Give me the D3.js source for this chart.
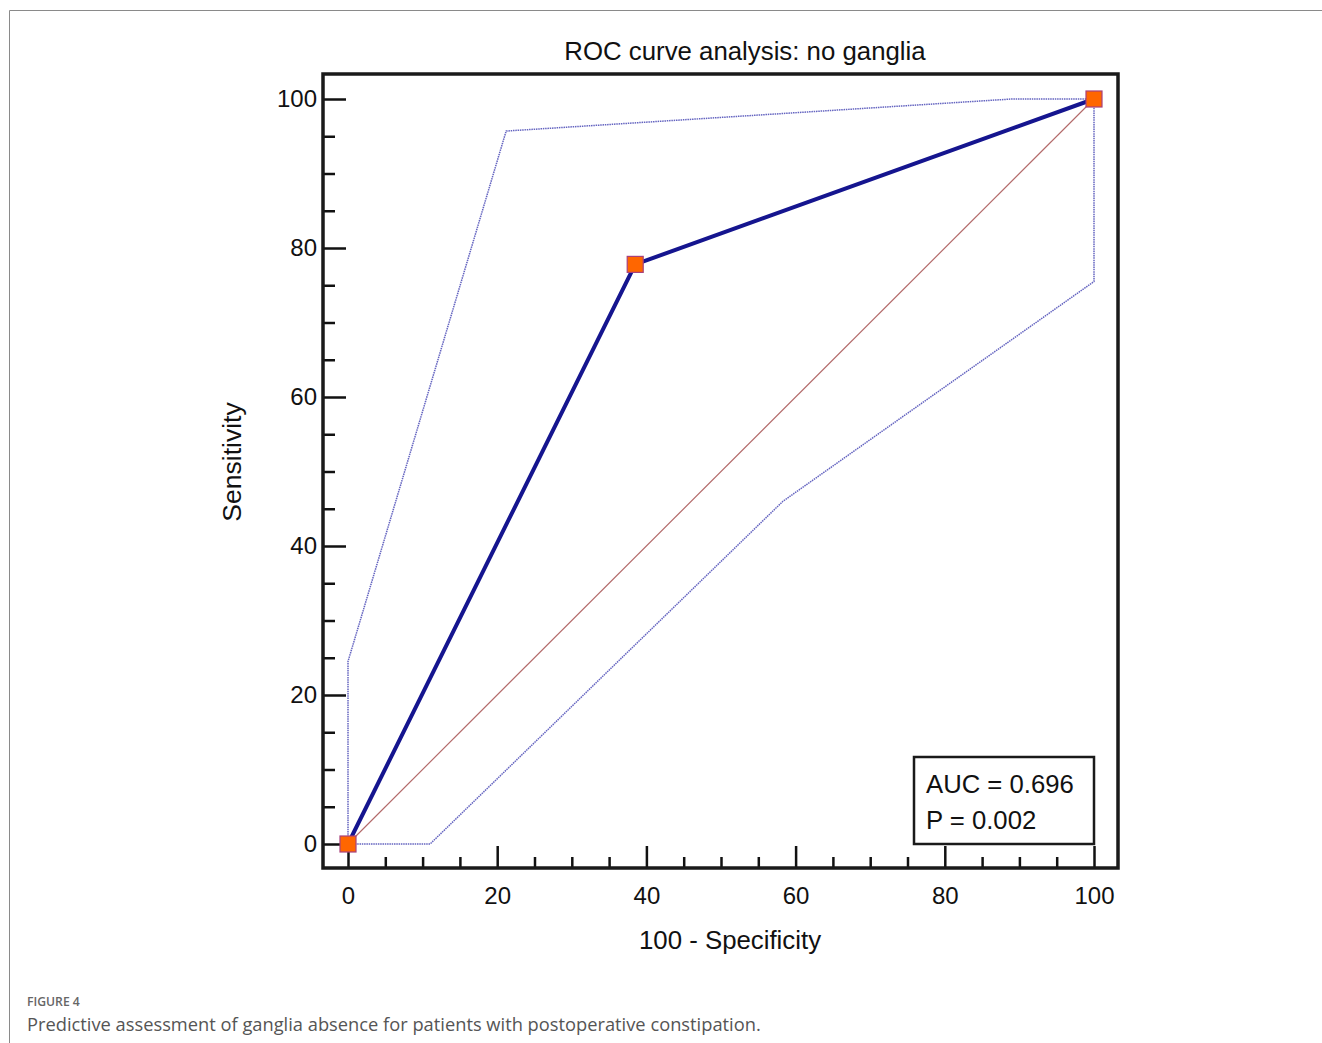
<!DOCTYPE html>
<html>
<head>
<meta charset="utf-8">
<script src="https://cdn.jsdelivr.net/npm/d3@7"></script>
<style>
	body { margin: 0; background: #fff; }
	svg { display: block; }
</style>
</head>
<body>
<script>
// * DATA
const rocX = [0, 38.5, 100];
const rocY = [0, 77.8, 100];
const upperX = [0, 0, 21.2, 89, 100];
const upperY = [0, 24.5, 95.7, 100, 100];
const lowerX = [0, 11, 58.3, 100, 100];
const lowerY = [0, 0, 46, 75.5, 100];
const refX = [0, 100];
const refY = [0, 100];
const majorTicks = [0, 20, 40, 60, 80, 100];
const minorTicks = [5, 10, 15, 25, 30, 35, 45, 50, 55, 65, 70, 75, 85, 90, 95];
const statLines = ["AUC = 0.696", "P = 0.002"];

const w = 1322;
const h = 1043;
const frame = { left: 323, top: 74, right: 1118, bottom: 868 };

const svg = d3.select("body").append("svg").attr("width", w).attr("height", h);

// * PAGE BORDER
svg.append("path")
	.attr("d", "M9.5,1043 V10.5 H1322")
	.attr("fill", "none")
	.attr("stroke", "#8a8a8a")
	.attr("stroke-width", 1);

// * SCALES
const xScale = d3.scaleLinear().domain([0, 100]).range([348, 1094]);
const yScale = d3.scaleLinear().domain([0, 100]).range([844, 99]);

const font = "'Liberation Sans', Arial, sans-serif";

// * AXES
const yMajor = d3.axisLeft(yScale).tickValues(majorTicks).tickSize(-23).tickPadding(6);
const yMinor = d3.axisLeft(yScale).tickValues(minorTicks).tickSize(-12).tickFormat("");
const xMajor = d3.axisBottom(xScale).tickValues(majorTicks).tickSize(-22).tickPadding(19);
const xMinor = d3.axisBottom(xScale).tickValues(minorTicks).tickSize(-11).tickFormat("");

function styleAxis(g) {
	g.select(".domain").remove();
	g.selectAll("line").attr("stroke", "#111").attr("stroke-width", 2.5);
	g.selectAll("text").attr("font-family", font).attr("font-size", 24).attr("fill", "#111");
}

svg.append("g").attr("transform", "translate(" + frame.left + ",0)").call(yMajor).call(styleAxis);
svg.append("g").attr("transform", "translate(" + frame.left + ",0)").call(yMinor).call(styleAxis);
svg.append("g").attr("transform", "translate(0," + frame.bottom + ")").call(xMajor).call(styleAxis);
svg.append("g").attr("transform", "translate(0," + frame.bottom + ")").call(xMinor).call(styleAxis);

// * LINES
const line = d3.line().x((d) => xScale(d[0])).y((d) => yScale(d[1]));
const zip = (a, b) => a.map((v, i) => [v, b[i]]);

svg.append("path")
	.attr("d", line(zip(refX, refY)))
	.attr("fill", "none")
	.attr("stroke", "#b36a6a")
	.attr("stroke-width", 1.2);

[zip(upperX, upperY), zip(lowerX, lowerY)].forEach((pts) => {
	svg.append("path")
		.attr("d", line(pts))
		.attr("fill", "none")
		.attr("stroke", "#6464c0")
		.attr("stroke-width", 1.5)
		.attr("stroke-dasharray", "1.5,0.8");
});

svg.append("path")
	.attr("d", line(zip(rocX, rocY)))
	.attr("fill", "none")
	.attr("stroke", "#15158f")
	.attr("stroke-width", 4);

// * MARKERS
const size = 16;
svg.selectAll("rect.pt")
	.data(zip(rocX, rocY))
	.enter()
	.append("rect")
	.attr("class", "pt")
	.attr("x", (d) => xScale(d[0]) - size / 2)
	.attr("y", (d) => yScale(d[1]) - size / 2)
	.attr("width", size)
	.attr("height", size)
	.attr("fill", "#ff6600")
	.attr("stroke", "#a8407a")
	.attr("stroke-width", 1.2);

// * FRAME
svg.append("rect")
	.attr("x", frame.left)
	.attr("y", frame.top)
	.attr("width", frame.right - frame.left)
	.attr("height", frame.bottom - frame.top)
	.attr("fill", "none")
	.attr("stroke", "#1a1a1a")
	.attr("stroke-width", 3.5);

// * STATS BOX
svg.append("rect")
	.attr("x", 914)
	.attr("y", 757)
	.attr("width", 180)
	.attr("height", 87)
	.attr("fill", "#fff")
	.attr("stroke", "#1a1a1a")
	.attr("stroke-width", 2.5);

svg.selectAll("text.stat")
	.data(statLines)
	.enter()
	.append("text")
	.attr("class", "stat")
	.attr("x", 926)
	.attr("y", (d, i) => 793 + i * 36)
	.attr("font-family", font)
	.attr("font-size", 25.7)
	.attr("fill", "#111")
	.text((d) => d);

// * TITLES
svg.append("text")
	.attr("x", 745)
	.attr("y", 60)
	.attr("text-anchor", "middle")
	.attr("font-family", font)
	.attr("font-size", 25.8)
	.attr("fill", "#111")
	.text("ROC curve analysis: no ganglia");

svg.append("text")
	.attr("x", 730)
	.attr("y", 949)
	.attr("text-anchor", "middle")
	.attr("font-family", font)
	.attr("font-size", 25.8)
	.attr("fill", "#111")
	.text("100 - Specificity");

svg.append("text")
	.attr("transform", "translate(241,462) rotate(-90)")
	.attr("text-anchor", "middle")
	.attr("font-family", font)
	.attr("font-size", 26.5)
	.attr("fill", "#111")
	.text("Sensitivity");

// * CAPTION
svg.append("text")
	.attr("x", 27)
	.attr("y", 1006)
	.attr("font-family", "'Open Sans', 'Noto Sans', sans-serif")
	.attr("font-size", 12.2)
	.attr("font-weight", 600)
	.attr("fill", "#666")
	.text("FIGURE 4");

svg.append("text")
	.attr("x", 27)
	.attr("y", 1031)
	.attr("font-family", "'Open Sans', 'Noto Sans', sans-serif")
	.attr("font-size", 18.3)
	.attr("fill", "#555")
	.text("Predictive assessment of ganglia absence for patients with postoperative constipation.");
</script>
</body>
</html>
